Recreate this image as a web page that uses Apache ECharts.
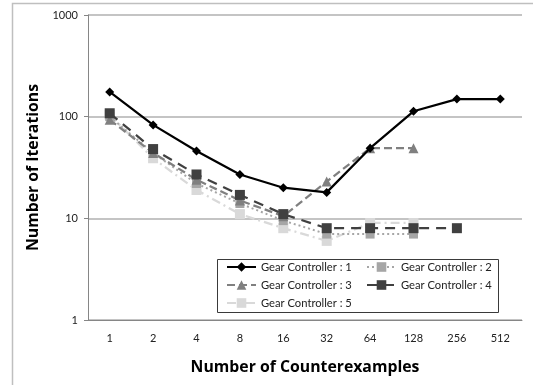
<!DOCTYPE html>
<html>
<head>
<meta charset="utf-8">
<script src="https://cdn.jsdelivr.net/npm/echarts@6/dist/echarts.min.js"></script>
<style>
  html, body { margin: 0; padding: 0; background: #fff; }
  #chart { width: 533px; height: 385px; }
</style>
</head>
<body>
<div id="chart"></div>
<script>
// Iterations needed per number of counterexamples, one list per controller
const counterexamples = ['1', '2', '4', '8', '16', '32', '64', '128', '256', '512'];
const gear1 = [175, 83, 46, 27, 20, 18, 49, 113, 149, 149];
const gear2 = [100, 44, 22, 14, 9.5, 7, 7, 7];
const gear3 = [93, 44, 24, 15, 10.5, 23, 49, 49];
const gear4 = [108, 48, 27, 17, 11, 8, 8, 8, 8];
const gear5 = [104, 39, 19, 11, 8, 6, 9, 9];
const yTicks = [1, 10, 100, 1000];

const FONT = 'Lato';
const TITLE_FONT = 'Open Sans';

const seriesDefs = [
  { name: 'Gear Controller : 1', data: gear1, color: '#000000', type: 'solid', width: 2.25, symbol: 'diamond', size: 9 },
  { name: 'Gear Controller : 2', data: gear2, color: '#a6a6a6', type: [2, 3], width: 2, symbol: 'rect', size: 9 },
  { name: 'Gear Controller : 3', data: gear3, color: '#808080', type: [8, 4], width: 2.25, symbol: 'triangle', size: 10 },
  { name: 'Gear Controller : 4', data: gear4, color: '#404040', type: [10, 7], width: 2.25, symbol: 'rect', size: 10 },
  { name: 'Gear Controller : 5', data: gear5, color: '#d9d9d9', type: [9, 4, 2, 4], width: 2.25, symbol: 'rect', size: 10 }
];

// draw order: lighter lines underneath, the black one on top
const drawOrder = [4, 1, 2, 3, 0];

const chart = echarts.init(document.getElementById('chart'), null, { renderer: 'canvas' });

const legendCommon = {
  orient: 'vertical',
  itemWidth: 29,
  itemHeight: 12,
  itemGap: 6,
  padding: 0,
  textStyle: { fontFamily: FONT, fontSize: 11.2, color: '#222', lineHeight: 12 },
  inactiveColor: '#ccc'
};

chart.setOption({
  animation: false,
  backgroundColor: '#ffffff',
  textStyle: { fontFamily: FONT },
  grid: { left: 88, right: 11, top: 15, bottom: 65 },
  graphic: [
    {
      type: 'rect',
      shape: { x: 12.5, y: 3.5, width: 560, height: 420 },
      style: { fill: 'none', stroke: '#bfbfbf', lineWidth: 1.5 },
      silent: true, z: -10
    },
    {
      type: 'rect',
      shape: { x: 217.5, y: 259.5, width: 281, height: 53 },
      style: { fill: '#ffffff', stroke: '#3a3a3a', lineWidth: 1 },
      silent: true, z: 50
    }
  ],
  legend: [
    Object.assign({ left: 226, top: 261, data: [seriesDefs[0].name, seriesDefs[2].name, seriesDefs[4].name], z: 60 }, legendCommon),
    Object.assign({ left: 366, top: 261, data: [seriesDefs[1].name, seriesDefs[3].name], z: 60 }, legendCommon)
  ],
  xAxis: {
    type: 'category',
    data: counterexamples,
    boundaryGap: true,
    name: 'Number of Counterexamples',
    nameLocation: 'middle',
    nameGap: 39,
    nameTextStyle: { fontFamily: TITLE_FONT, fontSize: 15.8, fontWeight: 'bold', color: '#000' },
    axisLine: { lineStyle: { color: '#868686', width: 1 } },
    axisTick: { show: false },
    axisLabel: { fontFamily: FONT, fontSize: 11, color: '#222', margin: 13 },
    splitLine: { show: false }
  },
  yAxis: {
    type: 'log',
    logBase: 10,
    min: yTicks[0],
    max: yTicks[yTicks.length - 1],
    name: 'Number of Iterations',
    nameLocation: 'middle',
    nameGap: 43,
    nameTextStyle: { fontFamily: TITLE_FONT, fontSize: 15.8, fontWeight: 'bold', color: '#000' },
    axisLine: { show: true, lineStyle: { color: '#868686', width: 1 } },
    axisTick: { show: true, length: 4, lineStyle: { color: '#868686' } },
    axisLabel: {
      fontFamily: FONT, fontSize: 11, color: '#222', margin: 10,
      formatter: function (v) { return String(Math.round(v)); }
    },
    splitLine: { show: true, lineStyle: { color: '#b0b0b0', width: 1.5 } },
    minorTick: { show: false },
    minorSplitLine: { show: false }
  },
  series: drawOrder.map(function (i) {
    const d = seriesDefs[i];
    return {
      name: d.name,
      type: 'line',
      data: d.data,
      symbol: d.symbol,
      symbolSize: d.size,
      showAllSymbol: true,
      z: 2 + drawOrder.indexOf(i),
      itemStyle: { color: d.color, borderWidth: 0 },
      lineStyle: { color: d.color, width: d.width, type: d.type },
      emphasis: { disabled: true }
    };
  })
});
</script>
</body>
</html>
